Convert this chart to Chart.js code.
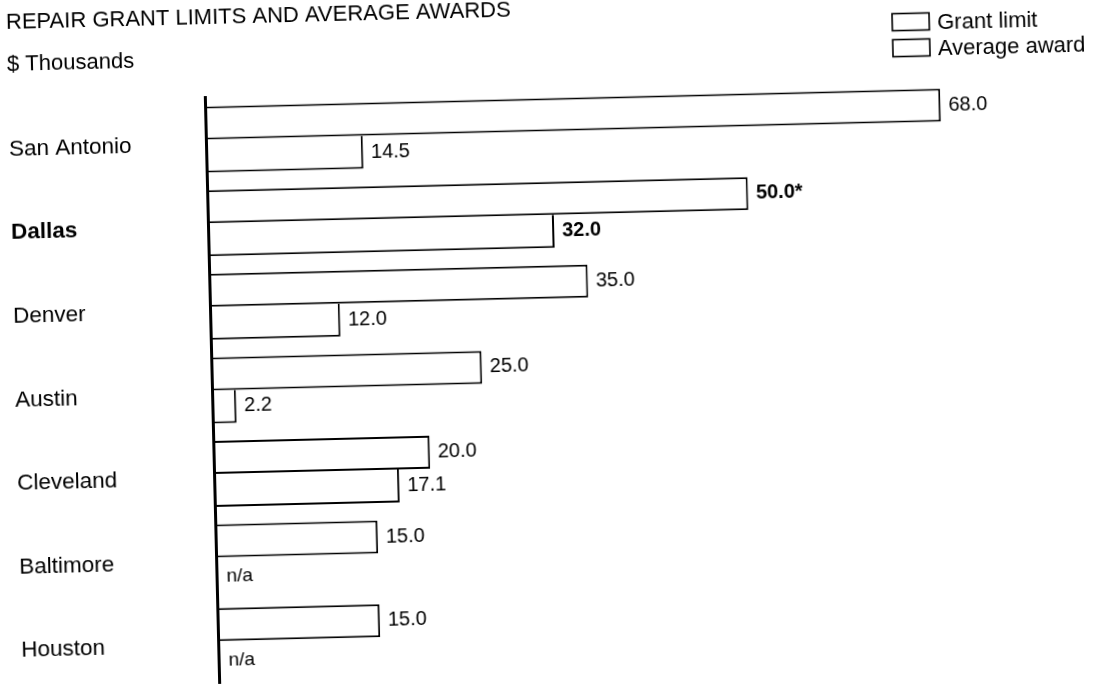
<!DOCTYPE html>
<html>
<head>
<meta charset="utf-8">
<title>Repair grant limits and average awards</title>
<script src="https://cdn.jsdelivr.net/npm/chart.js@4.4.1/dist/chart.umd.min.js"></script>
<style>
  html, body { margin: 0; padding: 0; background: #fff; }
  #page { position: relative; width: 1094px; height: 685px; overflow: hidden; background: #fff; }
  /* the printed sheet sits slightly askew */
  #sheet { position: absolute; left: 0; top: 0; width: 1094px; height: 685px;
           transform: rotate(-1.4deg); transform-origin: 212px 390px; }
</style>
</head>
<body>
<div id="page">
  <div id="sheet"><canvas id="chartGrants" width="1094" height="685"></canvas></div>
</div>
<script>
const cities = ['San Antonio', 'Dallas', 'Denver', 'Austin', 'Cleveland', 'Baltimore', 'Houston'];
const grantLimit = [68.0, 50.0, 35.0, 25.0, 20.0, 15.0, 15.0];
const averageAward = [14.5, 32.0, 12.0, 2.2, 17.1, null, null];
const grantNotes = ['', '*', '', '', '', '', ''];

const FONT = '"Liberation Sans", Arial, sans-serif';
const INK = '#000';

// value labels at the end of each bar, "n/a" where no award is reported
const barValues = {
    id: 'barValues',
    afterDatasetsDraw(chart) {
        const ctx = chart.ctx;
        const x0 = chart.scales.x.getPixelForValue(0);
        ctx.save();
        ctx.fillStyle = INK;
        ctx.textAlign = 'left';
        ctx.textBaseline = 'middle';
        chart.data.datasets.forEach((ds, di) => {
            chart.getDatasetMeta(di).data.forEach((bar, i) => {
                const v = ds.data[i];
                if (v === null) {
                    ctx.font = '19px ' + FONT;
                    ctx.fillText('n/a', x0 + 10, bar.y + 3);
                    return;
                }
                ctx.font = (i === 1 ? 'bold ' : '') + '20px ' + FONT;
                const note = di === 0 ? grantNotes[i] : '';
                ctx.fillText(v.toFixed(1) + note, bar.x + 8, bar.y);
            });
        });
        ctx.restore();
    }
};

// stacked legend in the top right corner
const boxLegend = {
    id: 'boxLegend',
    afterDraw(chart) {
        const ctx = chart.ctx;
        ctx.save();
        ctx.font = '22px ' + FONT;
        ctx.textAlign = 'left';
        ctx.textBaseline = 'middle';
        chart.data.datasets.forEach((ds, i) => {
            const cy = 39 + i * 26;
            ctx.fillStyle = '#fff';
            ctx.fillRect(901, cy - 8.5, 37, 17);
            ctx.strokeStyle = INK;
            ctx.lineWidth = 1.6;
            ctx.strokeRect(901, cy - 8.5, 37, 17);
            ctx.fillStyle = INK;
            ctx.fillText(ds.label, 946, cy + 2);
        });
        ctx.restore();
    }
};

let chartGrantsInstance = null;
const ctx = document.getElementById('chartGrants').getContext('2d');
chartGrantsInstance = new Chart(ctx, {
    type: 'bar',
    data: {
        labels: cities,
        datasets: [{
            label: 'Grant limit',
            data: grantLimit,
            backgroundColor: '#fff',
            borderColor: INK,
            borderWidth: { top: 2, right: 2, bottom: 2, left: 0 },
            borderSkipped: false,
            categoryPercentage: 0.79,
            barPercentage: 1.0
        }, {
            label: 'Average award',
            data: averageAward,
            backgroundColor: '#fff',
            borderColor: INK,
            borderWidth: { top: 0, right: 2, bottom: 2, left: 0 },
            borderSkipped: false,
            categoryPercentage: 0.79,
            barPercentage: 1.0
        }]
    },
    options: {
        indexAxis: 'y',
        responsive: false,
        animation: false,
        events: [],
        layout: { padding: { left: 15, right: 17, top: 0, bottom: 2 } },
        scales: {
            x: { min: 0, max: 80, display: false },
            y: {
                grid: { display: false, drawTicks: false },
                // axis line drawn over the bar ends
                border: { display: true, color: INK, width: 3, z: 1 },
                ticks: {
                    crossAlign: 'far',
                    labelOffset: 5,
                    padding: 0,
                    color: INK,
                    font: (c) => ({ family: FONT, size: 22.5, weight: c.index === 1 ? 'bold' : 'normal' })
                },
                afterFit(scale) {
                    // fixed label column; no extra room above/below the bars
                    scale.width = 197;
                    scale.paddingTop = 0;
                    scale.paddingBottom = 0;
                }
            }
        },
        plugins: {
            legend: { display: false },
            tooltip: { enabled: false },
            title: {
                display: true,
                text: 'REPAIR GRANT LIMITS AND AVERAGE AWARDS',
                align: 'start',
                color: INK,
                font: { family: FONT, size: 22, weight: 'normal' },
                padding: { top: 5, bottom: 15 }
            },
            subtitle: {
                display: true,
                text: '$ Thousands',
                align: 'start',
                color: INK,
                font: { family: FONT, size: 22, weight: 'normal' },
                padding: { top: 0, bottom: 25 }
            }
        }
    },
    plugins: [barValues, boxLegend]
});
</script>
</body>
</html>
